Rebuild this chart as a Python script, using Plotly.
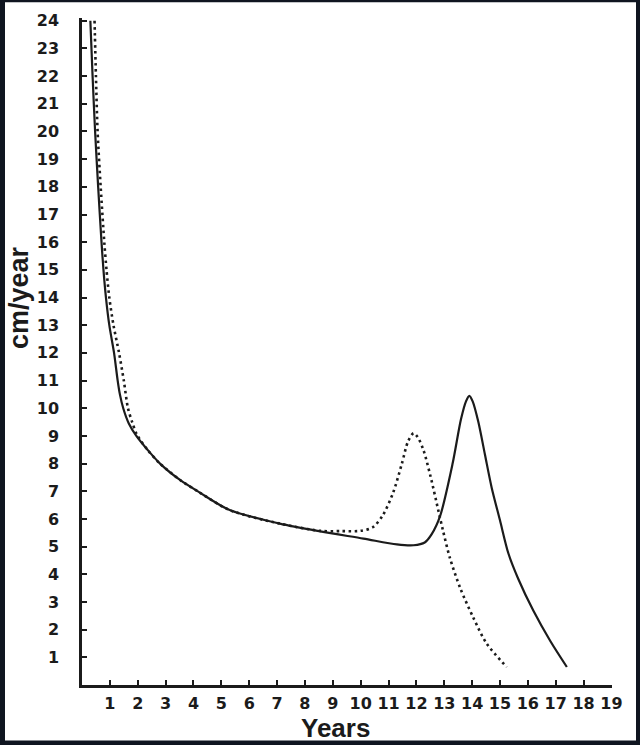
import plotly.graph_objects as go

# growth velocity curves (cm/year)
solid_years = [0.30, 0.38, 0.47, 0.58, 0.70, 0.77, 0.86, 0.98, 1.15, 1.28, 1.36, 1.48, 1.68, 1.95,
               2.35, 2.80, 3.53, 4.20, 5.30, 7.10, 8.55, 10.10, 11.30, 11.90, 12.30, 12.55,
               12.85, 13.30, 13.60, 13.78, 13.90, 14.02, 14.22, 14.46, 14.70, 15.00, 15.30,
               15.65, 16.20, 16.80, 17.40]
solid_velocity = [24.0, 22.0, 20.0, 18.0, 16.0, 15.0, 14.0, 13.0, 12.0, 11.0, 10.5, 10.0, 9.45, 9.0,
                  8.5, 8.0, 7.4, 6.97, 6.32, 5.83, 5.55, 5.29, 5.08, 5.05, 5.15, 5.45,
                  6.1, 8.0, 9.6, 10.25, 10.45, 10.25, 9.52, 8.33, 7.14, 5.95, 4.76,
                  3.85, 2.68, 1.6, 0.65]

dotted_years = [0.45, 0.50, 0.56, 0.67, 0.80, 0.88, 0.98, 1.13, 1.33, 1.50, 1.65, 1.80, 1.97,
                2.35, 2.80, 3.53, 4.20, 5.30, 7.10, 8.55, 9.30, 10.00, 10.45, 10.80, 11.17,
                11.48, 11.70, 11.90, 12.05, 12.25, 12.50, 12.80, 12.95, 13.20, 13.57, 14.04,
                14.52, 15.24]
dotted_velocity = [24.0, 22.0, 20.0, 18.0, 16.0, 15.0, 14.0, 13.0, 12.0, 11.0, 10.0, 9.5, 9.05,
                   8.5, 8.0, 7.4, 6.97, 6.32, 5.83, 5.57, 5.56, 5.57, 5.71, 6.14, 6.96,
                   8.0, 8.8, 9.1, 8.95, 8.5, 7.57, 6.25, 5.6, 4.6, 3.51, 2.44,
                   1.5, 0.65]

x_ticks = list(range(1, 20))
y_ticks = list(range(1, 25))

W, H = 640, 745
ML, MR, MT, MB = 82, 28, 11, 60
ink = "#1b1b1b"

fig = go.Figure()

fig.add_trace(go.Scatter(
    x=solid_years, y=solid_velocity, mode="lines",
    line=dict(color=ink, width=2.2, shape="spline", smoothing=0.8),
    hoverinfo="skip", showlegend=False
))

fig.add_trace(go.Scatter(
    x=dotted_years, y=dotted_velocity, mode="lines",
    line=dict(color=ink, width=2.6, dash="2.5px,3.5px", shape="spline", smoothing=0.8),
    hoverinfo="skip", showlegend=False
))

# dark scan frame: dark paper, white sheet on top of it
pw, ph = W - ML - MR, H - MT - MB
def px_x(p):
    return (p - ML) / pw
def px_y(p):
    return (H - MB - p) / ph

fig.add_shape(type="rect", xref="paper", yref="paper", layer="below",
              x0=px_x(5), x1=px_x(636), y0=px_y(741), y1=px_y(-5),
              fillcolor="white", line=dict(width=0))

fig.add_annotation(text="cm/year", xref="paper", yref="paper",
                   x=px_x(19), y=px_y(294), xanchor="center", yanchor="middle",
                   textangle=-90, showarrow=False,
                   font=dict(family="Liberation Sans", size=27, color=ink, weight="bold"))
fig.add_annotation(text="Years", xref="paper", yref="paper",
                   x=px_x(335), y=px_y(728), xanchor="center", yanchor="middle",
                   showarrow=False,
                   font=dict(family="Liberation Sans", size=26, color=ink, weight="bold"))

axis_font = dict(family="DejaVu Sans", size=16, color=ink, weight="bold")

fig.update_xaxes(
    range=[0, 19.02], tickvals=x_ticks, ticktext=[str(v) for v in x_ticks],
    ticks="inside", ticklen=5, tickwidth=1.5, tickcolor=ink,
    showline=True, linecolor=ink, linewidth=2.5,
    showgrid=False, zeroline=False, tickfont=axis_font, ticklabelstandoff=2,
    fixedrange=True
)
fig.update_yaxes(
    range=[0, 24.1], tickvals=y_ticks, ticktext=[str(v) for v in y_ticks],
    ticks="inside", ticklen=5, tickwidth=1.5, tickcolor=ink,
    showline=True, linecolor=ink, linewidth=2.5,
    showgrid=False, zeroline=False, tickfont=axis_font, ticklabelstandoff=17,
    fixedrange=True
)

fig.update_layout(
    width=W, height=H,
    margin=dict(l=ML, r=MR, t=MT, b=MB),
    paper_bgcolor="#0f1520",
    plot_bgcolor="white",
    showlegend=False
)

# drop the default page margin so the figure sits at the window's corner
fig.write_html("out.html", config={"displayModeBar": False},
               post_script="document.body.style.margin='0';document.body.style.overflow='hidden';")
